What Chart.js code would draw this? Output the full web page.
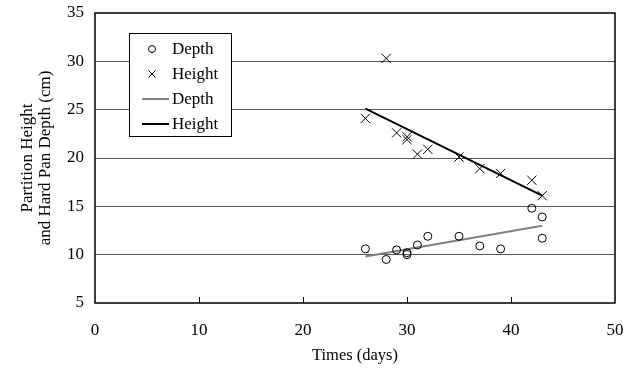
<!DOCTYPE html>
<html>
<head>
<meta charset="utf-8">
<script src="https://cdn.jsdelivr.net/npm/chart.js@4.4.0/dist/chart.umd.min.js"></script>
<style>
  html, body { margin: 0; padding: 0; background: #fff; overflow: hidden; }
  #wrap { width: 623px; height: 369px; }
</style>
</head>
<body>
<div id="wrap"><canvas id="chart"></canvas></div>
<script>
// measurements: days vs hard pan depth / partition height (cm)
var depthDays = [26, 28, 29, 30, 30, 31, 32, 35, 37, 39, 42, 43, 43];
var depthValues = [10.6, 9.5, 10.5, 10.2, 10.0, 11.0, 11.9, 11.9, 10.9, 10.6, 14.8, 13.9, 11.7];
var heightDays = [26, 28, 29, 30, 30, 31, 32, 35, 37, 39, 42, 43];
var heightValues = [24.1, 30.3, 22.6, 22.2, 21.9, 20.4, 20.9, 20.1, 18.9, 18.4, 17.7, 16.1];

// fitted lines, end points
var trendDays = [26, 43];
var depthTrend = [9.8, 13.0];
var heightTrend = [25.1, 16.1];

var xTicks = [0, 10, 20, 30, 40, 50];
var yTicks = [5, 10, 15, 20, 25, 30, 35];

var serif = '"Liberation Serif", "Times New Roman", serif';

function pairs(xs, ys) {
    return xs.map(function (x, i) { return { x: x, y: ys[i] }; });
}

// box round the plot + small inward ticks on the x axis
var frame = {
    id: 'frame',
    beforeDatasetsDraw: function (chart) {
        var a = chart.chartArea, ctx = chart.ctx, xs = chart.scales.x;
        ctx.save();
        ctx.strokeStyle = '#000';
        ctx.lineWidth = 1.5;
        ctx.strokeRect(a.left, a.top, a.right - a.left, a.bottom - a.top);
        ctx.lineWidth = 1;
        xTicks.forEach(function (v) {
            if (v == xs.min || v == xs.max) return;
            var px = Math.round(xs.getPixelForValue(v)) + 0.5;
            ctx.beginPath();
            ctx.moveTo(px, a.bottom);
            ctx.lineTo(px, a.bottom - 6);
            ctx.stroke();
        });
        ctx.restore();
    }
};

// legend in a white box inside the plot
var legendBox = {
    id: 'legendBox',
    afterDraw: function (chart) {
        var ctx = chart.ctx;
        var bx = 129, by = 33, bw = 102, bh = 103;
        ctx.save();
        ctx.fillStyle = '#fff';
        ctx.fillRect(bx, by, bw, bh);
        ctx.strokeStyle = '#000';
        ctx.lineWidth = 1;
        ctx.strokeRect(bx + 0.5, by + 0.5, bw, bh);
        ctx.font = '17px ' + serif;
        ctx.textBaseline = 'middle';
        ctx.textAlign = 'left';
        chart.data.datasets.forEach(function (ds, i) {
            var cy = by + 16 + i * 25;
            var cx = 152;
            ctx.strokeStyle = ds.borderColor;
            if (ds.showLine) {
                ctx.lineWidth = ds.borderWidth;
                ctx.beginPath();
                ctx.moveTo(142, cy);
                ctx.lineTo(169, cy);
                ctx.stroke();
            } else if (ds.pointStyle == 'circle') {
                ctx.lineWidth = 1;
                ctx.beginPath();
                ctx.arc(cx, cy, 3.5, 0, Math.PI * 2);
                ctx.stroke();
            } else {
                ctx.lineWidth = 1;
                ctx.beginPath();
                ctx.moveTo(cx - 3.5, cy - 3.5);
                ctx.lineTo(cx + 3.5, cy + 3.5);
                ctx.moveTo(cx + 3.5, cy - 3.5);
                ctx.lineTo(cx - 3.5, cy + 3.5);
                ctx.stroke();
            }
            ctx.fillStyle = '#000';
            ctx.fillText(ds.label, 172, cy + 1);
        });
        ctx.restore();
    }
};

var ctx = document.getElementById('chart').getContext('2d');
var myChart = new Chart(ctx, {
    type: 'scatter',
    data: {
        datasets: [{
            label: 'Depth',
            data: pairs(depthDays, depthValues),
            pointStyle: 'circle',
            pointRadius: 4,
            borderColor: '#000',
            backgroundColor: 'rgba(0,0,0,0)',
            borderWidth: 1
        }, {
            label: 'Height',
            data: pairs(heightDays, heightValues),
            pointStyle: 'crossRot',
            pointRadius: 6.5,
            borderColor: '#000',
            borderWidth: 1
        }, {
            label: 'Depth',
            data: pairs(trendDays, depthTrend),
            showLine: true,
            pointRadius: 0,
            borderColor: '#808080',
            borderWidth: 2
        }, {
            label: 'Height',
            data: pairs(trendDays, heightTrend),
            showLine: true,
            pointRadius: 0,
            borderColor: '#000',
            borderWidth: 2
        }]
    },
    options: {
        responsive: true,
        maintainAspectRatio: false,
        animation: false,
        layout: { padding: { top: 13, right: 8, left: 0, bottom: 0 } },
        plugins: {
            legend: { display: false },
            tooltip: { enabled: false }
        },
        scales: {
            x: {
                type: 'linear',
                min: 0,
                max: 50,
                afterBuildTicks: function (s) { s.ticks = xTicks.map(function (v) { return { value: v }; }); },
                afterFit: function (s) { s.height = 66; s.paddingLeft = 0; s.paddingRight = 0; },
                grid: { display: false },
                border: { display: false },
                ticks: { color: '#000', padding: 11, maxRotation: 0, font: { family: serif, size: 17, lineHeight: 1 } },
                title: {
                    display: true,
                    text: 'Times (days)',
                    color: '#000',
                    padding: { top: 0, bottom: 5 },
                    font: { family: serif, size: 16.5, lineHeight: 1 }
                }
            },
            y: {
                min: 5,
                max: 35,
                afterBuildTicks: function (s) { s.ticks = yTicks.map(function (v) { return { value: v }; }); },
                afterFit: function (s) { s.width = 95; s.paddingTop = 0; s.paddingBottom = 0; },
                grid: {
                    drawTicks: false,
                    color: function (c) {
                        var v = c.tick ? c.tick.value : 0;
                        return (v == 5 || v == 35) ? 'rgba(0,0,0,0)' : '#555';
                    }
                },
                border: { display: false },
                ticks: { color: '#000', padding: 11, font: { family: serif, size: 17, lineHeight: 1 } },
                title: {
                    display: true,
                    text: ['Partition Height', 'and Hard Pan Depth (cm)'],
                    color: '#000',
                    padding: { top: 19, bottom: 0 },
                    font: { family: serif, size: 17, lineHeight: 1.05 }
                }
            }
        }
    },
    plugins: [frame, legendBox]
});
</script>
</body>
</html>
